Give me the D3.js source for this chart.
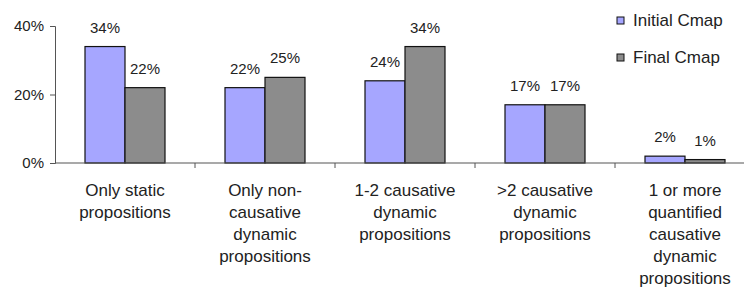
<!DOCTYPE html>
<html>
<head>
<meta charset="utf-8">
<script src="https://cdn.jsdelivr.net/npm/d3@7"></script>
<style>
  body { margin:0; background:#fff; }
  text { font-family: "Liberation Sans", Arial, sans-serif; fill:#222; }
</style>
</head>
<body>
<div id="chart"></div>
<script>
const categories = [
  ["Only static", "propositions"],
  ["Only non-", "causative", "dynamic", "propositions"],
  ["1-2 causative", "dynamic", "propositions"],
  [">2 causative", "dynamic", "propositions"],
  ["1 or more", "quantified", "causative", "dynamic", "propositions"]
]
const initialCmap = [34, 22, 24, 17, 2]
const finalCmap   = [22, 25, 34, 17, 1]
const initialLabels = ["34%", "22%", "24%", "17%", "2%"]
const finalLabels   = ["22%", "25%", "34%", "17%", "1%"]
const seriesNames = ["Initial Cmap", "Final Cmap"]
const yTicks = [0, 20, 40]

const colors = ["#a6a6ff", "#8c8c8c"]
const width = 744, height = 288
const margin = {top:26, left:55}
const plotH = 137

const svg = d3.select("#chart").append("svg")
  .attr("width", width).attr("height", height)
const g = svg.append("g").attr("transform", "translate(" + margin.left + "," + margin.top + ")")

const x = d3.scaleBand().domain(d3.range(categories.length)).range([0, 700]).paddingInner(0).paddingOuter(0)
const y = d3.scaleLinear().domain([0, 40]).range([plotH, 0])
const bw = 40

// bars
const series = [initialCmap, finalCmap]
const labels = [initialLabels, finalLabels]
series.forEach((vals, s) => {
  g.selectAll(null).data(vals).enter().append("rect")
    .attr("x", (d, i) => x(i) + x.bandwidth() / 2 - bw + s * bw)
    .attr("y", d => y(d))
    .attr("width", bw)
    .attr("height", d => y(0) - y(d))
    .attr("fill", colors[s])
    .attr("stroke", "#111")
    .attr("stroke-width", 1.2)
  g.selectAll(null).data(vals).enter().append("text")
    .attr("x", (d, i) => x(i) + x.bandwidth() / 2 - bw / 2 + s * bw)
    .attr("y", d => y(d) - 14)
    .attr("text-anchor", "middle")
    .style("font-size", "15px")
    .text((d, i) => labels[s][i])
})

// y axis
const yAxis = g.append("g")
  .call(d3.axisLeft(y).tickValues(yTicks).tickSize(5).tickFormat(d => d + "%"))
yAxis.selectAll("text").style("font-size", "15px").attr("x", -11)
yAxis.select(".domain").attr("stroke", "#555")
yAxis.selectAll(".tick line").attr("stroke", "#555")

// x axis baseline and separators
g.append("line").attr("x1", 0).attr("x2", 700).attr("y1", y(0)).attr("y2", y(0))
  .attr("stroke", "#555").attr("stroke-width", 1.2)
g.selectAll(null).data(d3.range(1, categories.length)).enter().append("line")
  .attr("x1", d => x(d)).attr("x2", d => x(d))
  .attr("y1", y(0)).attr("y2", y(0) + 5)
  .attr("stroke", "#555")

// category labels
categories.forEach((lines, i) => {
  const t = g.append("text")
    .attr("text-anchor", "middle")
    .attr("x", x(i) + x.bandwidth() / 2)
    .attr("y", y(0) + 33)
    .style("font-size", "17px")
  lines.forEach((ln, j) => {
    t.append("tspan").attr("x", x(i) + x.bandwidth() / 2).attr("dy", j ? 22 : 0).text(ln)
  })
})

// legend
const legend = svg.append("g").attr("transform", "translate(617,17)")
seriesNames.forEach((n, i) => {
  legend.append("rect").attr("x", 0).attr("y", i * 37).attr("width", 7).attr("height", 7)
    .attr("fill", colors[i]).attr("stroke", "#111")
  legend.append("text").attr("x", 16).attr("y", i * 37 + 9).style("font-size", "17px").text(n)
})
</script>
</body>
</html>
